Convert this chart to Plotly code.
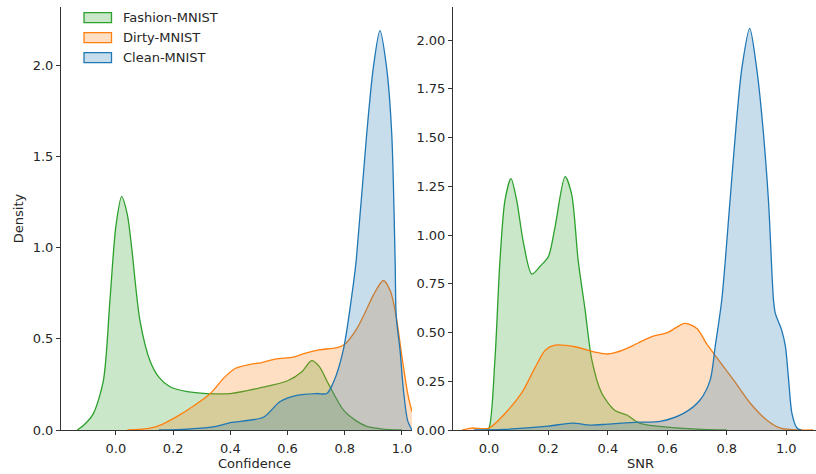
import plotly.graph_objects as go

# ---- Left panel: Confidence ----
conf_fashion_x = [-0.135, -0.11, -0.079, -0.044, -0.021, 0.0, 0.02, 0.04, 0.055, 0.084, 0.119, 0.15, 0.189, 0.25, 0.317, 0.4, 0.5, 0.6, 0.65, 0.684, 0.71, 0.742, 0.795, 0.84, 0.877, 0.92, 0.96, 1.0]
conf_fashion_y = [0.0, 0.03, 0.09, 0.27, 0.71, 1.12, 1.28, 1.18, 1.0, 0.6, 0.38, 0.29, 0.237, 0.21, 0.20, 0.20, 0.23, 0.27, 0.32, 0.38, 0.35, 0.256, 0.11, 0.05, 0.02, 0.008, 0.002, 0.0]

conf_dirty_x = [0.04, 0.12, 0.16, 0.22, 0.27, 0.33, 0.38, 0.42, 0.47, 0.51, 0.56, 0.62, 0.66, 0.71, 0.77, 0.80, 0.84, 0.87, 0.90, 0.935, 0.96, 0.98, 1.0, 1.02, 1.035]
conf_dirty_y = [0.0, 0.01, 0.03, 0.08, 0.13, 0.20, 0.29, 0.34, 0.36, 0.37, 0.39, 0.40, 0.42, 0.44, 0.45, 0.47, 0.55, 0.64, 0.74, 0.82, 0.76, 0.62, 0.40, 0.20, 0.10]

conf_clean_x = [0.15, 0.25, 0.35, 0.4, 0.515, 0.573, 0.632, 0.70, 0.737, 0.76, 0.795, 0.83, 0.84, 0.877, 0.90, 0.923, 0.946, 0.964, 0.976, 0.98, 0.993, 1.005, 1.02, 1.035]
conf_clean_y = [0.0, 0.005, 0.02, 0.04, 0.07, 0.155, 0.19, 0.20, 0.20, 0.26, 0.44, 0.80, 0.93, 1.63, 1.99, 2.19, 1.99, 1.63, 0.93, 0.62, 0.44, 0.22, 0.05, 0.0]

# ---- Right panel: SNR ----
snr_fashion_x = [-0.01, 0.0, 0.02, 0.037, 0.054, 0.074, 0.093, 0.116, 0.144, 0.172, 0.20, 0.222, 0.256, 0.278, 0.30, 0.323, 0.346, 0.379, 0.424, 0.464, 0.508, 0.6, 0.7, 0.8]
snr_fashion_y = [0.0, 0.01, 0.36, 0.87, 1.18, 1.29, 1.18, 0.96, 0.80, 0.84, 0.89, 1.04, 1.30, 1.21, 0.87, 0.62, 0.36, 0.19, 0.10, 0.077, 0.034, 0.015, 0.005, 0.0]

snr_dirty_x = [-0.09, -0.06, 0.0, 0.054, 0.11, 0.155, 0.19, 0.222, 0.29, 0.357, 0.40, 0.45, 0.50, 0.55, 0.60, 0.66, 0.70, 0.733, 0.767, 0.823, 0.879, 0.935, 0.98, 1.05, 1.09]
snr_dirty_y = [0.0, 0.01, 0.01, 0.085, 0.19, 0.32, 0.41, 0.435, 0.427, 0.40, 0.39, 0.41, 0.445, 0.48, 0.50, 0.547, 0.52, 0.44, 0.37, 0.256, 0.137, 0.05, 0.01, 0.0, 0.0]

snr_clean_x = [-0.05, 0.05, 0.2, 0.28, 0.34, 0.4, 0.5, 0.576, 0.654, 0.71, 0.744, 0.761, 0.783, 0.811, 0.834, 0.851, 0.877, 0.90, 0.918, 0.940, 0.957, 0.963, 0.985, 0.997, 1.008, 1.019, 1.036, 1.05]
snr_clean_y = [0.0, 0.003, 0.02, 0.035, 0.025, 0.03, 0.04, 0.044, 0.085, 0.154, 0.256, 0.43, 0.667, 1.18, 1.61, 1.86, 2.06, 1.86, 1.61, 1.18, 0.667, 0.60, 0.51, 0.43, 0.256, 0.085, 0.01, 0.0]

names = ["Fashion-MNIST", "Dirty-MNIST", "Clean-MNIST"]
line_colors = ["#2ca02c", "#ff7f0e", "#1f77b4"]
fill_colors = ["rgba(44,160,44,0.25)", "rgba(255,127,14,0.25)", "rgba(31,119,180,0.25)"]

left_series = [(conf_fashion_x, conf_fashion_y), (conf_dirty_x, conf_dirty_y), (conf_clean_x, conf_clean_y)]
right_series = [(snr_fashion_x, snr_fashion_y), (snr_dirty_x, snr_dirty_y), (snr_clean_x, snr_clean_y)]

FS = 13
W, H = 816, 474
T, B = 7, 44
PH = H - T - B  # plot-area height in px


def px_x(px):
    return px / W


def px_y(py):
    return (H - B - py) / PH


fig = go.Figure()
for i, (xs, ys) in enumerate(left_series):
    fig.add_trace(go.Scatter(x=xs, y=ys, name=names[i], mode="lines", fill="tozeroy",
                             line=dict(color=line_colors[i], width=1.3, shape="spline", smoothing=0.8),
                             fillcolor=fill_colors[i], xaxis="x", yaxis="y", showlegend=False))
for i, (xs, ys) in enumerate(right_series):
    fig.add_trace(go.Scatter(x=xs, y=ys, name=names[i], mode="lines", fill="tozeroy",
                             line=dict(color=line_colors[i], width=1.3, shape="spline", smoothing=0.8),
                             fillcolor=fill_colors[i], xaxis="x2", yaxis="y2", showlegend=False))

# matplotlib-style legend (patch + label), frameless
shapes = []
annotations = []
for i, nm in enumerate(names):
    top = 12.7 + 20 * i
    shapes.append(dict(type="rect", xref="paper", yref="paper",
                       x0=px_x(84), x1=px_x(111.5), y0=px_y(top + 10), y1=px_y(top),
                       fillcolor=fill_colors[i], line=dict(color=line_colors[i], width=1.3)))
    annotations.append(dict(text=nm, xref="paper", yref="paper", x=px_x(120.5), y=px_y(top + 5),
                            xanchor="left", yanchor="middle", showarrow=False,
                            font=dict(family="DejaVu Sans", size=FS, color="#262626")))

annotations += [
    dict(text="Confidence", x=px_x(254), y=px_y(463), xref="paper", yref="paper",
         xanchor="center", yanchor="middle", showarrow=False, font=dict(size=FS)),
    dict(text="SNR", x=px_x(640), y=px_y(464), xref="paper", yref="paper",
         xanchor="center", yanchor="middle", showarrow=False, font=dict(size=FS)),
]

axis_common = dict(showgrid=False, zeroline=False, showline=True, linecolor="#333333", linewidth=1,
                   ticks="outside", ticklen=4, tickcolor="#333333", automargin=False,
                   tickfont=dict(family="DejaVu Sans", size=FS, color="#262626"))
xticks = [0.0, 0.2, 0.4, 0.6, 0.8, 1.0]

fig.update_layout(
    width=W, height=H,
    margin=dict(l=0, r=0, t=T, b=B),
    plot_bgcolor="white", paper_bgcolor="white",
    font=dict(family="DejaVu Sans", size=FS, color="#262626"),
    xaxis=dict(domain=[px_x(61), px_x(412)], range=[-0.192, 1.035], tickvals=xticks, tickformat=".1f",
               anchor="y", ticklabelstandoff=2, **axis_common),
    yaxis=dict(domain=[0, 1], range=[0, 2.32], tickvals=[0.0, 0.5, 1.0, 1.5, 2.0], tickformat=".1f",
               title=dict(text="Density", standoff=6, font=dict(size=FS)), anchor="x", **axis_common),
    xaxis2=dict(domain=[px_x(453), 1.0], range=[-0.121, 1.10], tickvals=xticks, tickformat=".1f",
                anchor="y2", ticklabelstandoff=2, **axis_common),
    yaxis2=dict(domain=[0, 1], range=[0, 2.17], tickvals=[0.0, 0.25, 0.5, 0.75, 1.0, 1.25, 1.5, 1.75, 2.0],
                tickformat=".2f", anchor="x2", **axis_common),
    showlegend=False,
    shapes=shapes,
    annotations=annotations,
)

fig.write_html("out.html")
